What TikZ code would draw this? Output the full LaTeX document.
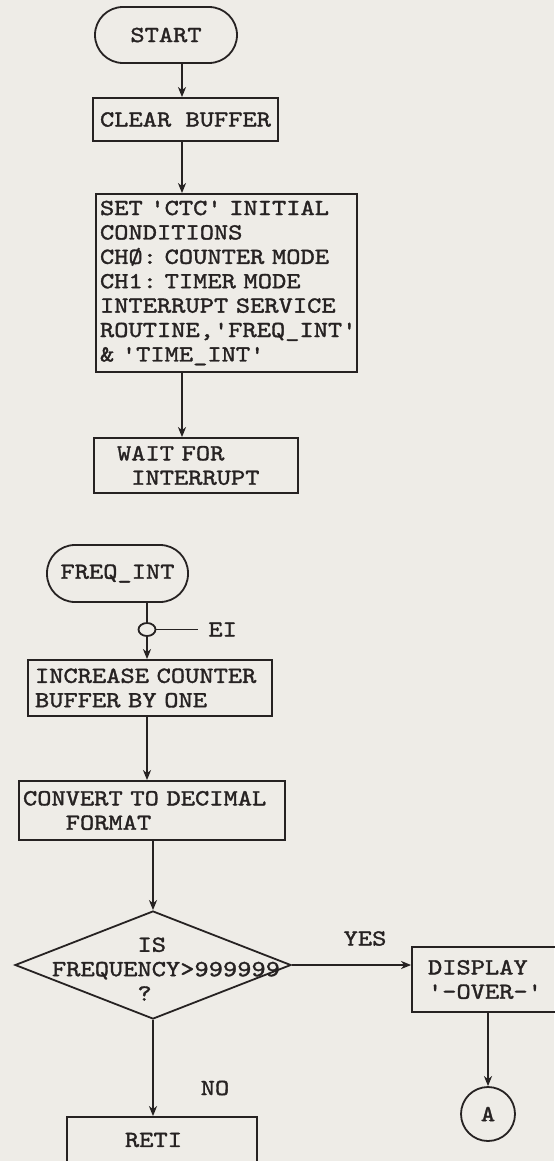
\documentclass[tikz,border=0pt]{standalone}
\usepackage{fontspec}
\setmonofont{lmmono10-regular.otf}[FakeStretch=1.18,FakeBold=1.5]
\usepackage{tikz}
\usetikzlibrary{arrows.meta,shapes}
\definecolor{paper}{RGB}{238,236,231}
\definecolor{ink}{RGB}{38,34,34}
\frenchspacing
\tikzset{
 box/.style={draw=ink,text=ink,line width=0.9pt,inner ysep=0pt,align=left},
 term/.style={box,rounded corners=14pt,align=center,inner sep=0pt},
 flow/.style={draw=ink,line width=0.9pt,-{Stealth[length=5pt,width=4pt,inset=1.5pt]}},
 wire/.style={draw=ink,line width=0.9pt}
}
\begin{document}
\begin{tikzpicture}[x=0.5pt,y=-0.5pt,font=\ttfamily\fontsize{11.5}{12.2}\selectfont]
\fill[paper](0,0)rectangle(554,1161);
\useasboundingbox(0,0)rectangle(554,1161);
\node[term,minimum width=71pt,minimum height=28pt](start)at(166,35){START};
\node[box,align=center,minimum width=89.5pt,minimum height=21.5pt](clear)at(185.5,119.5){CLEAR BUFFER};
\node[box,minimum width=130.5pt,minimum height=89pt,inner xsep=2pt,text width=126.5pt](ctc)at(226.5,283){\mbox{SET 'CTC' INITIAL}\\CONDITIONS\\\mbox{CHØ: COUNTER MODE}\\\mbox{CH1: TIMER MODE}\\\mbox{INTERRUPT SERVICE}\\ROUTINE,'FREQ\_INT'\\\mbox{\& 'TIME\_INT'}};
\node[box,minimum width=102pt,minimum height=27.5pt,inner xsep=11.5pt,text width=79pt](wait)at(196,465.5){\mbox{WAIT FOR}\\\hphantom{0}INTERRUPT};
\node[term,minimum width=70.5pt,minimum height=28.5pt](fint)at(117.5,573.5){FREQ\_INT};
\node[ellipse,wire,minimum width=8.5pt,minimum height=6.5pt,inner sep=0pt](ei)at(147,629.5){};
\coordinate(eiend)at(198,629.5);
\node[anchor=west,text=ink,inner xsep=5pt](eitxt)at(eiend){EI};
\node[box,minimum width=122pt,minimum height=28pt,inner xsep=3.5pt,text width=115pt](inc)at(150,688){\mbox{INCREASE COUNTER}\\\mbox{BUFFER BY ONE}};
\node[box,minimum width=133pt,minimum height=29.5pt,inner xsep=2pt,text width=129pt](conv)at(152,810.5){\mbox{CONVERT TO DECIMAL}\\\hphantom{000}FORMAT};
\node[diamond,wire,minimum width=138pt,minimum height=54pt,inner sep=0pt,
 label={[text=ink,align=left,xshift=6.5pt,yshift=-2pt]center:{\hphantom{000000}IS\\FREQUENCY>999999\\\hphantom{000000}?}}](dec)at(153,965){};
\node[box,minimum width=84pt,minimum height=32.5pt,inner xsep=8pt,text width=68pt](disp)at(496,979.5){DISPLAY\\'-OVER-'};
\node[circle,wire,text=ink,minimum size=27pt,inner sep=0pt](conA)at(488,1114){A};
\node[box,minimum width=95pt,minimum height=23pt,inner xsep=29pt,text width=37pt](reti)at(162,1140){RETI};
\node[text=ink](yes)at(365,938.5){YES};
\node[text=ink](no)at(215,1088){NO};
\coordinate(spA)at(182,0);
\draw[flow](start.south-|spA)--(clear.north-|spA);
\draw[flow](clear.south-|spA)--(ctc.north-|spA);
\draw[flow](ctc.south-|spA)--(wait.north-|spA);
\draw[wire](fint.south-|ei)--(ei.north);
\draw[flow](ei.south)--(inc.north-|ei);
\draw[wire](ei.east)--(eiend);
\draw[flow](inc.south-|ei)--(conv.north-|ei);
\draw[flow](conv.south-|dec)--(dec.north);
\draw[flow](dec.east)--(dec.east-|disp.west);
\draw[flow](dec.south)--(reti.north-|dec);
\draw[flow](disp.south-|conA)--(conA.north);
\end{tikzpicture}
\end{document}
